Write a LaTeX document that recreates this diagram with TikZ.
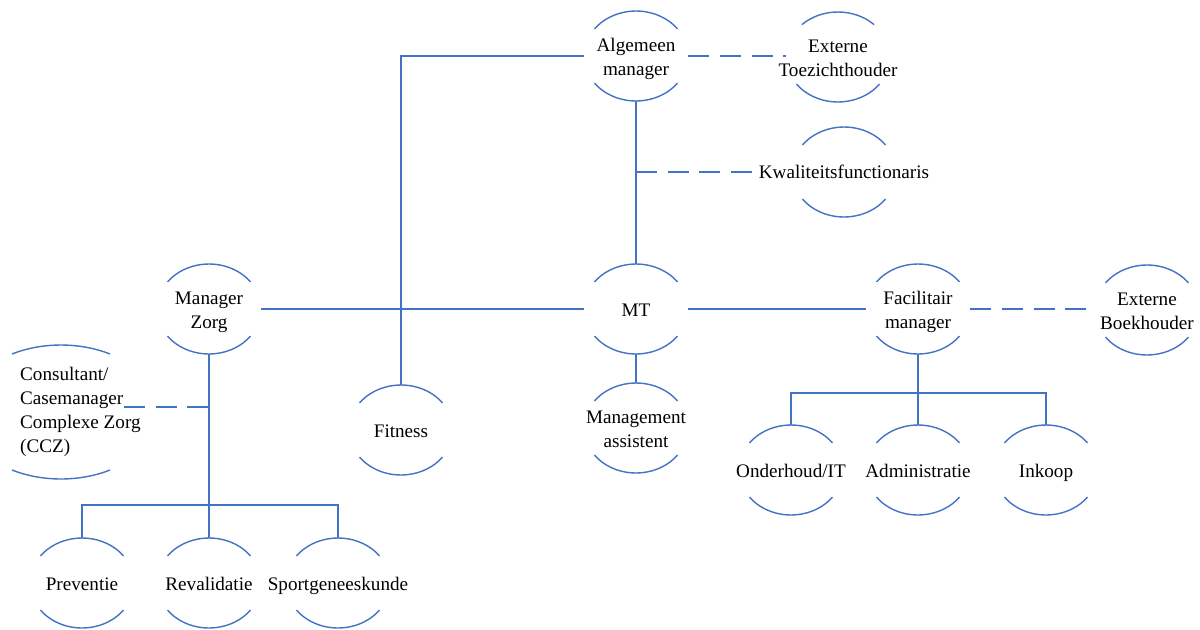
\documentclass[tikz,border=0pt]{standalone}
\usepackage{fontspec}
\setmainfont{Liberation Serif}
\usetikzlibrary{shapes.geometric}
\definecolor{orgblue}{HTML}{4472C4}
\newcommand{\unittext}[1]{\raisebox{-4.5pt}[0pt][0pt]{\makebox[0pt]{\begin{tabular}{@{}c@{}}#1\end{tabular}}}}

\begin{document}
\begin{tikzpicture}
      [
      x=0.02cm, y=-0.02cm,
      unit/.style={ellipse,inner sep=0pt,minimum width=2.08cm,minimum height=1.8cm,font=\fontsize{10.9}{13.6}\selectfont},
      plain/.style={font=\fontsize{10.9}{13.6}\selectfont},
      link/.style={orgblue,line width=1.2pt},
      dlink/.style={link,dash pattern=on 12pt off 6pt},
      rim/.style={orgblue,line width=0.8pt}
      ]
      \useasboundingbox (0,0) rectangle (1200,629);
      % top
      \node (am) at (636,56) [unit] {\unittext{Algemeen\\manager}};
      \node (et) at (838,57) [unit] {\unittext{Externe\\Toezichthouder}};
      \node (kf) at (844,172) [plain] {Kwaliteitsfunctionaris};
      % middle row
      \node (mz) at (209,309) [unit] {\unittext{Manager\\Zorg}};
      \node (mt) at (636,309) [unit] {\unittext{MT}};
      \node (fm) at (918,309) [unit] {\unittext{Facilitair\\manager}};
      \node (eb) at (1147,310) [unit] {\unittext{Externe\\Boekhouder}};
      \node (fit) at (401,430) [unit] {\unittext{Fitness}};
      \node (ma) at (636,428) [unit] {\unittext{Management\\assistent}};
      \node (ccz) at (14,412) [plain,anchor=west,align=left] {Consultant/\\Casemanager\\Complexe Zorg\\(CCZ)};
      \coordinate (cczin) at (124,407);
      % facilitair
      \node (ond) at (791,470) [unit] {\unittext{Onderhoud/IT}};
      \node (adm) at (918,470) [unit] {\unittext{Administratie}};
      \node (ink) at (1046,470) [unit] {\unittext{Inkoop}};
      \coordinate (fmbar) at (918,393);
      % zorg
      \node (prev) at (82,583) [unit] {\unittext{Preventie}};
      \node (reva) at (209,583) [unit] {\unittext{Revalidatie}};
      \node (sport) at (338,583) [unit] {\unittext{Sportgeneeskunde}};
      \coordinate (mzbar) at (209,505);

      % arcs round the units
      \foreach \n/\t/\u in {am/37/143,et/46/134,kf/37/143,mz/37/143,mt/37/143,fm/37/143,eb/37/143,fit/37/143,ma/37/143,ond/37/143,adm/37/143,ink/37/143,prev/37/143,reva/37/143,sport/37/143}
      {
        \draw [rim] (\n.center) ++(\t:1.04cm and 0.9cm) arc [start angle=\t,end angle=\u,x radius=1.04cm,y radius=0.9cm];
        \draw [rim] (\n.center) ++(217:1.04cm and 0.9cm) arc [start angle=217,end angle=323,x radius=1.04cm,y radius=0.9cm];
      }
      \draw [rim] ([xshift=0.94cm]ccz.west) ++(60:1.96cm and 1.34cm) arc [start angle=60,end angle=120,x radius=1.96cm,y radius=1.34cm];
      \draw [rim] ([xshift=0.94cm]ccz.west) ++(240:1.96cm and 1.34cm) arc [start angle=240,end angle=300,x radius=1.96cm,y radius=1.34cm];

      % connectors
      \draw [link] (am) -- (mt);
      \draw [dlink] (am.east) -- (am.east -| et.west);
      \draw [dlink] (kf.west -| am.south) -- (kf.west);
      \draw [link] (am.west) -| (fit.north);
      \draw [link] (mz) -- (mt);
      \draw [link] (mt) -- (fm);
      \draw [dlink] (fm.east) -- (eb.west |- fm.east);
      \draw [link] (mt) -- (ma);
      \draw [link] (fm) -- (fmbar);
      \draw [link] (ond.north) |- (fmbar) -| (ink.north);
      \draw [link] (adm) -- (fmbar);
      \draw [link] (mz) -- (mzbar);
      \draw [link] (prev.north) |- (mzbar) -| (sport.north);
      \draw [link] (reva) -- (mzbar);
      \draw [dlink] (cczin) -- (cczin -| mz.south);
    \end{tikzpicture}
\end{document}
